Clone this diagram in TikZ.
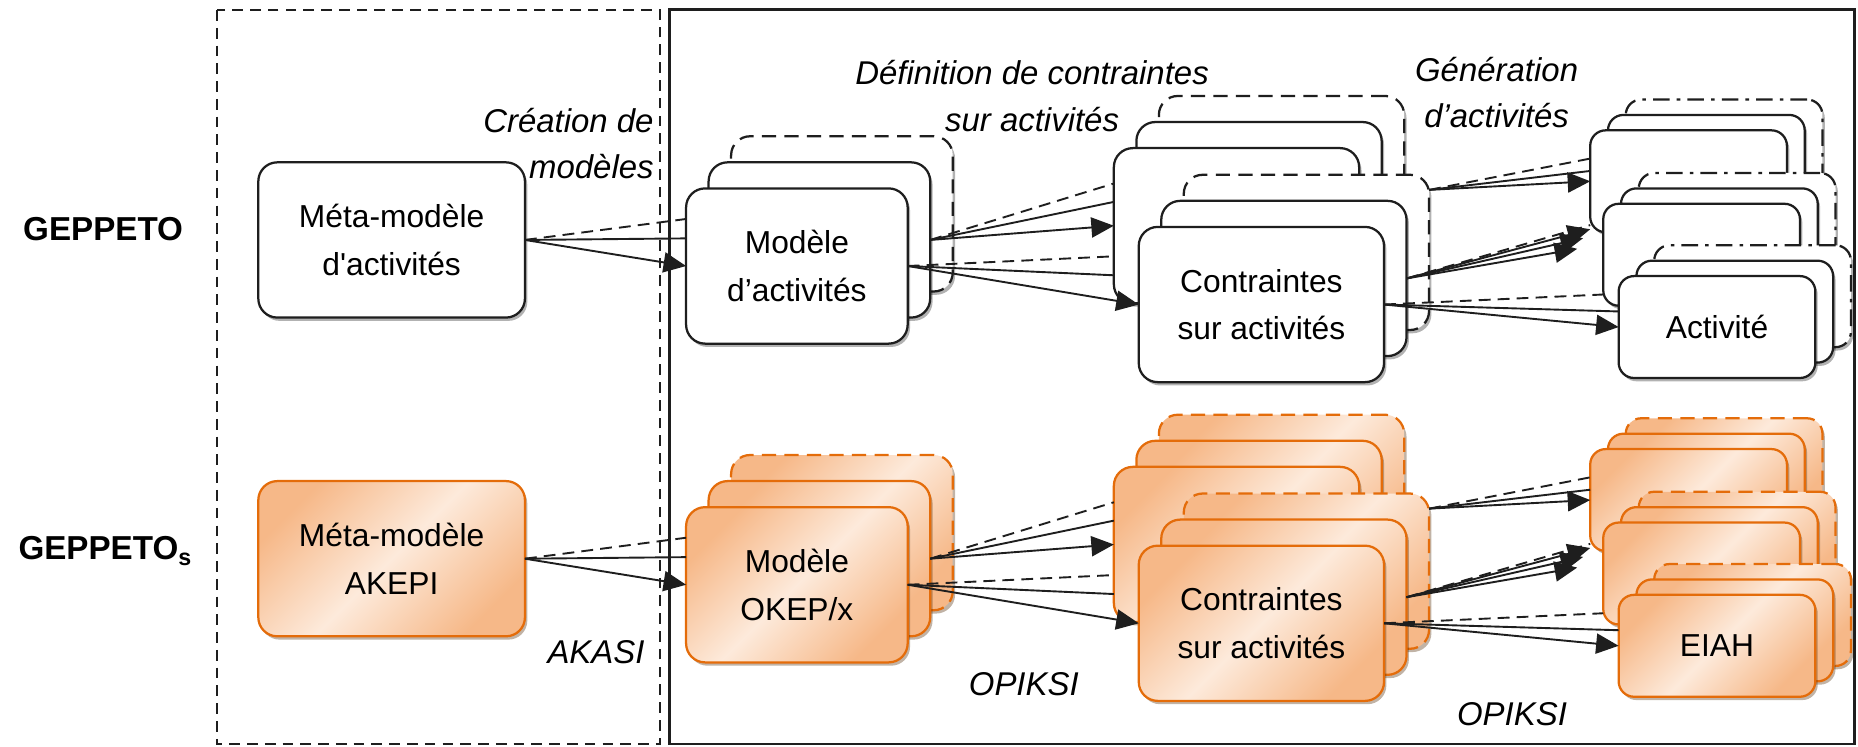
\documentclass[tikz,border=0pt]{standalone}
\usepackage{fontspec}
\setmainfont{Liberation Sans}[Ligatures=TeXOff]
\usetikzlibrary{arrows.meta,shadows}
\definecolor{orB}{RGB}{228,108,10}
\definecolor{orD}{RGB}{246,184,136}
\definecolor{orL}{RGB}{253,234,219}
\definecolor{ln}{RGB}{30,30,30}
\tikzset{
  base/.style={rounded corners=8pt, line width=0.95pt, inner sep=0pt, outer sep=0pt, align=center, font=\fontsize{13.4}{20}\selectfont},
  wfill/.style={draw=ln, fill=white, drop shadow={shadow xshift=1pt, shadow yshift=-1.4pt, fill=black, opacity=0.3}},
  ofill/.style={draw=orB, top color=orD, bottom color=orD, middle color=orL, shading angle=45, drop shadow={shadow xshift=1pt, shadow yshift=-1.4pt, fill=black!70!orange, opacity=0.35}},
  bigbox/.style={minimum width=93.5pt, minimum height=65.5pt},
  widebox/.style={minimum width=103.5pt, minimum height=65.5pt},
  metabox/.style={minimum width=112.5pt, minimum height=65.5pt},
  smallbox/.style={minimum width=83pt, minimum height=43pt, rounded corners=6.5pt},
  dashedlayer/.style={dash pattern=on 6pt off 3.5pt},
  dotlayer/.style={dash pattern=on 7pt off 3pt on 1.5pt off 3pt},
  conn/.style={draw=ln, line width=0.8pt},
  dconn/.style={conn, dash pattern=on 5pt off 3pt},
  aconn/.style={conn, -{Triangle[length=9.5pt,width=8.5pt]}},
  frameD/.style={draw=ln, line width=0.8pt, dash pattern=on 4.5pt off 3pt},
  frameS/.style={draw=ln, line width=0.9pt},
  lab/.style={font=\fontsize{13.9}{19.5}\selectfont\itshape, inner sep=0pt},
  ttl/.style={font=\fontsize{14}{17}\selectfont\bfseries, inner sep=0pt},
}
% #1 id, #2 y offset, #3 fill style, #4 back style (big), #5 back style (small), #6 model text, #7 small text
\newcommand\stackrow[7]{%
  \node[base,#3,bigbox,#4] (m#1c) at (710.5,180.5+#2) {};
  \node[base,#3,bigbox] (m#1b) at (691.5,202.5+#2) {};
  \node[base,#3,bigbox] (m#1a) at (672.5,224.5+#2) {#6};
  \node[base,#3,widebox,#4] (u#1c) at (1081.5,146.5+#2) {};
  \node[base,#3,widebox] (u#1b) at (1062.5,168.5+#2) {};
  \node[base,#3,widebox] (u#1a) at (1043.5,190.5+#2) {};
  \node[base,#3,widebox,#4] (l#1c) at (1102.5,213+#2) {};
  \node[base,#3,widebox] (l#1b) at (1083.5,235+#2) {};
  \node[base,#3,widebox] (l#1a) at (1064.5,257+#2) {Contraintes\\sur activités};
  \node[base,#3,smallbox,#5] (p#1c) at (1455,127+#2) {};
  \node[base,#3,smallbox] (p#1b) at (1440,140+#2) {};
  \node[base,#3,smallbox] (p#1a) at (1425,153+#2) {};
  \node[base,#3,smallbox,#5] (q#1c) at (1466,189+#2) {};
  \node[base,#3,smallbox] (q#1b) at (1451,202+#2) {};
  \node[base,#3,smallbox] (q#1a) at (1436,215+#2) {};
  \node[base,#3,smallbox,#5] (s#1c) at (1479,250+#2) {};
  \node[base,#3,smallbox] (s#1b) at (1464,263+#2) {};
  \node[base,#3,smallbox] (s#1a) at (1449,276+#2) {#7};
}
% #1 id, #2 y offset
\newcommand\connrow[2]{%
  \coordinate (e#1x) at (1336,201+#2);
  \coordinate (e#1y) at (1331,210+#2);
  \draw[dconn] (meta#1.east) -- (m#1a.157.6);
  \draw[conn] (meta#1.east) -- (m#1a.166.5);
  \draw[aconn] (meta#1.east) -- (m#1a.west);
  \draw[dconn] (m#1b.east) -- (u#1a.161.1);
  \draw[conn] (m#1b.east) -- (u#1a.169.3);
  \draw[aconn] (m#1b.east) -- (u#1a.west);
  \draw[dconn] (m#1a.east) -- (u#1a.194.4);
  \draw[conn] (m#1a.east) -- (u#1a.202.8);
  \draw[aconn] (m#1a.east) -- (l#1a.west);
  \draw[dconn] (l#1c.27.1) -- (p#1a.167.1);
  \draw[conn] (l#1c.27.1) -- (p#1a.174.5);
  \draw[aconn] (l#1c.27.1) -- (p#1a.west);
  \draw[dconn] (l#1b.east) -- (p#1a.204);
  \draw[aconn] (l#1b.east) -- (p#1a.206.3);
  \draw[aconn] (l#1b.east) -- (e#1x);
  \draw[aconn] (l#1b.east) -- (e#1y);
  \draw[dconn] (l#1a.east) -- (q#1a.202.9);
  \draw[conn] (l#1a.east) -- (s#1a.171.1);
  \draw[aconn] (l#1a.east) -- (s#1a.west);
}
\begin{document}
\begin{tikzpicture}[x=0.5pt,y=-0.5pt]
\useasboundingbox (0,0) rectangle (1568,630);
% frames
\draw[frameD] (183,8.5) rectangle (557,628);
\draw[frameS] (565,8) rectangle (1565,628);
% row titles
\node[ttl] (g1) at (87,193) {GEPPETO};
\node[ttl] (g2) at (89,465) {GEPPETO\textsubscript{s}};
% labels
\node[lab, align=right, anchor=east] (l-crea) at (552,121) {Création de\\modèles\hspace{5pt}};
\node[lab, align=center] (l-def) at (871,81) {Définition de contraintes\\sur activités};
\node[lab, align=center] (l-gen) at (1263,78) {Génération\\d’activités};
\node[lab] (l-akasi) at (503,550) {AKASI};
\node[lab] (l-op1) at (864,577) {OPIKSI};
\node[lab] (l-op2) at (1276,603) {OPIKSI};
% meta models
\node[base,wfill,metabox] (meta1) at (330.5,202.5) {Méta-modèle\\d'activités};
\node[base,ofill,metabox] (meta2) at (330.5,471.5) {Méta-modèle\\AKEPI};
% stacks
\stackrow{1}{0}{wfill}{dashedlayer}{dotlayer}{Modèle\\d’activités}{Activité}
\stackrow{2}{269}{ofill}{dashedlayer}{dashedlayer}{Modèle\\OKEP/x}{EIAH}
% connectors
\connrow{1}{0}
\connrow{2}{269}
\end{tikzpicture}
\end{document}
